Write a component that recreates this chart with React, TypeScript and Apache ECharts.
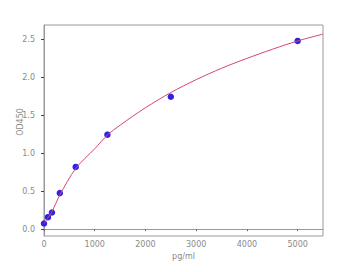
import React, { useEffect, useRef } from "react";
import * as echarts from "echarts";

const standardConc = [0, 78, 156, 312, 625, 1250, 2500, 5000];
const standardOD = [0.075, 0.158, 0.22, 0.475, 0.82, 1.245, 1.745, 2.48];

const curveConc = [0, 78, 156, 312, 625, 1000, 1250, 1500, 2000, 2500, 3000, 3500, 4000, 4500, 5000, 5500];
const curveOD = [0.07, 0.15, 0.23, 0.45, 0.8, 1.06, 1.24, 1.37, 1.6, 1.8, 1.97, 2.12, 2.25, 2.37, 2.48, 2.57];

const xTicks = [0, 1000, 2000, 3000, 4000, 5000];
const yTicks = [0, 0.5, 1.0, 1.5, 2.0, 2.5];

const xName = "pg/ml";
const yName = "OD450";

export default function App() {
  const ref = useRef<HTMLDivElement>(null);
  useEffect(() => {
    if (!ref.current) return;
    const chart = echarts.init(ref.current, null, { renderer: "svg" });
    const font = "DejaVu Sans";
    const axisColor = "#9a9a9a";
    const labelColor = "#8a8a8a";
    chart.setOption({
      animation: false,
      backgroundColor: "#ffffff",
      grid: {
        left: 44,
        right: 36,
        top: 25,
        bottom: 36,
        show: true,
        borderColor: axisColor,
        borderWidth: 1,
        backgroundColor: "transparent",
      },
      xAxis: {
        type: "value",
        min: 0,
        max: 5500,
        name: xName,
        nameLocation: "middle",
        nameGap: 12,
        nameTextStyle: { color: labelColor, fontSize: 8, fontFamily: font },
        axisLine: { show: true, lineStyle: { color: axisColor, width: 1 } },
        axisTick: { show: true, length: 2, customValues: xTicks, lineStyle: { color: "#666" } },
        axisLabel: {
          customValues: xTicks,
          formatter: (v: number) => String(v),
          color: labelColor,
          fontSize: 8,
          fontFamily: font,
          margin: 4,
        },
        splitLine: { show: false },
      },
      yAxis: {
        type: "value",
        min: -0.09,
        max: 2.69,
        axisLine: { show: true, lineStyle: { color: axisColor, width: 1 } },
        axisTick: { show: true, length: 3, customValues: yTicks, lineStyle: { color: "#444" } },
        axisLabel: {
          customValues: yTicks,
          formatter: (v: number) => v.toFixed(1),
          color: labelColor,
          fontSize: 8,
          fontFamily: font,
          margin: 9,
        },
        splitLine: { show: false },
      },
      graphic: [
        {
          type: "text",
          x: 20,
          y: 122,
          rotation: Math.PI / 2,
          style: {
            text: yName,
            fill: labelColor,
            fontSize: 8,
            fontFamily: font,
            align: "center",
            verticalAlign: "middle",
          },
        },
      ],
      series: [
        {
          type: "scatter",
          data: standardConc.map((c, i) => [c, standardOD[i]]),
          symbol: "circle",
          symbolSize: 6.5,
          itemStyle: { color: "#2f22e0", opacity: 1 },
          z: 2,
        },
        {
          type: "line",
          data: curveConc.map((c, i) => [c, curveOD[i]]),
          smooth: 0.3,
          showSymbol: false,
          lineStyle: { color: "#d2486e", width: 1 },
          z: 3,
        },
      ],
    });
    return () => chart.dispose();
  }, []);
  return <div ref={ref} style={{ width: 359, height: 272, margin: -8 }} />;
}
